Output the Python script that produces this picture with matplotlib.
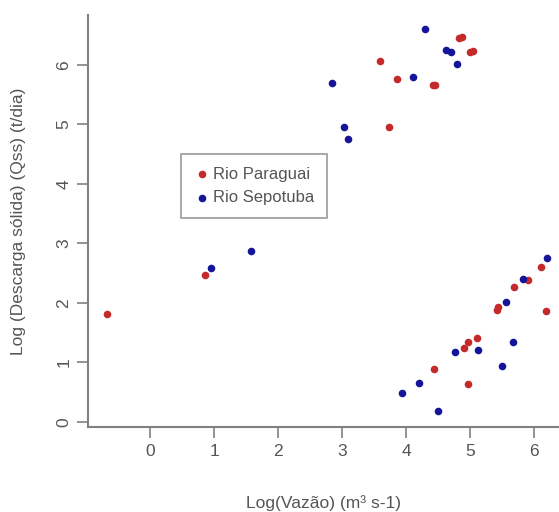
import matplotlib
matplotlib.use("Agg")
import matplotlib.pyplot as plt

# Rio Paraguai
par_x = [-0.68, 0.86, 3.60, 3.86, 3.73, 4.42, 4.45, 4.82, 4.87, 5.00, 5.04,
         6.11, 5.90, 5.68, 5.42, 5.44, 6.19, 4.91, 4.97, 5.11, 4.44, 4.97]
par_y = [1.81, 2.47, 6.06, 5.77, 4.96, 5.67, 5.67, 6.45, 6.47, 6.21, 6.24,
         2.61, 2.39, 2.27, 1.89, 1.94, 1.87, 1.24, 1.35, 1.42, 0.89, 0.64]
# Rio Sepotuba
sep_x = [0.95, 1.57, 2.84, 3.03, 3.09, 4.11, 4.29, 4.63, 4.71, 4.79,
         6.21, 5.82, 5.56, 4.77, 5.13, 5.67, 5.50, 4.21, 3.94, 4.50]
sep_y = [2.58, 2.88, 5.69, 4.95, 4.76, 5.79, 6.60, 6.26, 6.22, 6.02,
         2.75, 2.40, 2.01, 1.17, 1.21, 1.35, 0.94, 0.66, 0.49, 0.19]

xticks = [0, 1, 2, 3, 4, 5, 6]
yticks = [0, 1, 2, 3, 4, 5, 6]

plt.rcParams['font.family'] = ['Liberation Sans', 'DejaVu Sans']
axc = "#808080"
txc = "#555555"
fs = 12.5

fig = plt.figure(figsize=(5.59, 5.12), dpi=100)
ax = fig.add_axes([88/559, 85/512, 1 - 88/559, (427-15)/512])

ax.scatter(par_x, par_y, s=30, color="#c42a2a", label="Rio Paraguai", zorder=3, linewidths=0)
ax.scatter(sep_x, sep_y, s=30, color="#15159a", label="Rio Sepotuba", zorder=3, linewidths=0)

ax.set_xlim(-0.97, 6.39)
ax.set_ylim(-0.084, 6.84)
ax.set_xticks(xticks)
ax.set_yticks(yticks)
for s in ["top", "right"]:
    ax.spines[s].set_visible(False)
for s in ["left", "bottom"]:
    ax.spines[s].set_color(axc)
    ax.spines[s].set_linewidth(1.5)
ax.tick_params(axis="both", colors=axc, labelcolor=txc, length=8, width=1.2, labelsize=fs, pad=4)
for lab in ax.get_yticklabels():
    lab.set_rotation(90)
    lab.set_va("center")

ax.set_xlabel("Log(Vazão) (m³ s-1)", color=txc, fontsize=fs, labelpad=26)
ax.set_ylabel("Log (Descarga sólida) (Qss) (t/dia)", color=txc, fontsize=fs, labelpad=22)

leg = ax.legend(loc="upper left", bbox_to_anchor=(0.48, 4.50), bbox_transform=ax.transData,
                fontsize=12, frameon=True, fancybox=False, handletextpad=0.2,
                borderpad=0.75, borderaxespad=0, handlelength=1.0, labelspacing=0.5,
                labelcolor=txc)
leg.get_frame().set_edgecolor(axc)
leg.get_frame().set_linewidth(1.2)

fig.savefig("out.png", dpi=100)
